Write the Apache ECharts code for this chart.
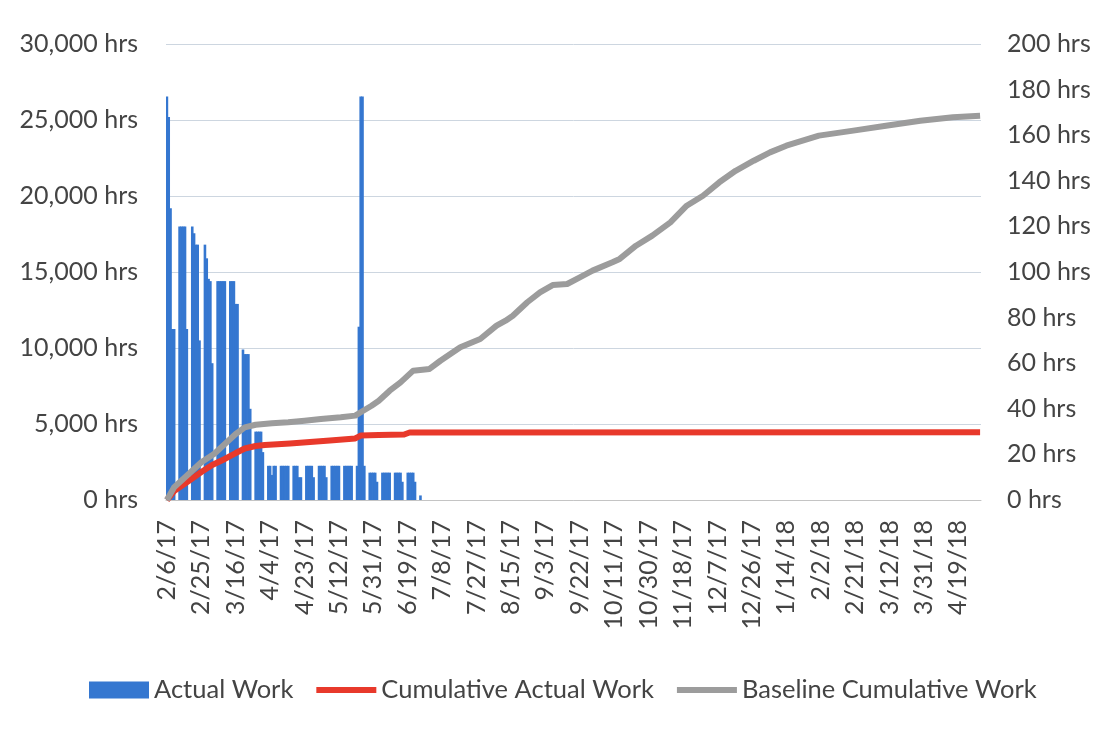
<!DOCTYPE html>
<html>
<head>
<meta charset="utf-8">
<script src="https://cdn.jsdelivr.net/npm/echarts@6/dist/echarts.min.js"></script>
<style>
html,body{margin:0;padding:0;background:#fff;}
#chart{width:1109px;height:740px;}
</style>
</head>
<body>
<div id="chart"></div>
<script>
// ---- DATA ----
const startDate = [2017, 2, 6];   // first day on the axis (Mon 2/6/17)
const dayCount = 450;             // daily categories through 5/1/18

// Actual Work (hrs per day), Mon..Fri for each week starting 2/6/17
const actualWorkWeeks = [
  [177, 168, 128, 75, 75],
  [120, 120, 120, 120, 75],
  [120, 117, 112, 112, 70],
  [112, 106, 97, 96, 60],
  [96, 96, 96, 96, 96],
  [96, 96, 96, 86, 86],
  [66, 64, 64, 64, 40],
  [30, 30, 30, 30, 21],
  [15, 15, 11, 15, 15],
  [15, 15, 15, 15, 15],
  [15, 15, 15, 10, 10],
  [15, 15, 15, 15, 10],
  [15, 15, 15, 15, 10],
  [15, 15, 15, 15, 15],
  [15, 15, 15, 15, 15],
  [15, 76, 177, 177, 15],
  [12, 12, 12, 12, 8],
  [12, 12, 12, 12, 12],
  [12, 12, 12, 12, 8],
  [12, 12, 12, 12, 8],
  [2, 0, 0, 0, 0]
];

// Cumulative Actual Work (hrs): [day index, value]
const cumulativeActual = [
  [0, 0], [4, 590], [12, 1250], [19, 1840], [25, 2300], [32, 2700],
  [38, 3090], [43, 3390], [49, 3550], [54, 3620], [68, 3720], [79, 3820],
  [90, 3910], [104, 4050], [107, 4240], [117, 4280], [131, 4310],
  [134, 4440], [449, 4450]
];

// Baseline Cumulative Work (hrs): [day index, value]
const baselineCumulative = [
  [0, 0], [4, 835], [12, 1710], [19, 2480], [26, 3030], [32, 3680],
  [38, 4340], [43, 4780], [49, 4950], [58, 5050], [67, 5110], [76, 5220],
  [85, 5330], [96, 5440], [104, 5550], [107, 5770], [113, 6200],
  [117, 6530], [123, 7190], [129, 7740], [136, 8510], [145, 8620],
  [151, 9160], [162, 10050], [173, 10590], [182, 11470], [187, 11800],
  [191, 12120], [199, 13010], [206, 13660], [213, 14140], [221, 14210],
  [228, 14650], [235, 15090], [246, 15640], [250, 15860], [259, 16730],
  [268, 17390], [278, 18270], [287, 19360], [296, 20020], [305, 20900],
  [314, 21660], [324, 22320], [333, 22870], [342, 23310], [351, 23640],
  [360, 23970], [379, 24300], [397, 24620], [416, 24950], [434, 25180],
  [449, 25280]
];

// ---- BUILD ----
const categories = [];
for (let i = 0; i < dayCount; i++) {
  const d = new Date(startDate[0], startDate[1] - 1, startDate[2] + i);
  categories.push((d.getMonth() + 1) + '/' + d.getDate() + '/' + String(d.getFullYear()).slice(2));
}
const actualDaily = new Array(dayCount).fill(0);
actualWorkWeeks.forEach((wk, w) => {
  wk.forEach((v, k) => { actualDaily[w * 7 + k] = v; });
});

const font = 'Lato, "Open Sans", sans-serif';
const textColor = '#444444';
const lineIcon = 'path://M0,0H60V6H0Z';
const chart = echarts.init(document.getElementById('chart'), null, {renderer: 'canvas'});
chart.setOption({
  animation: false,
  backgroundColor: '#ffffff',
  grid: {left: 166, right: 128, top: 44, bottom: 240, containLabel: false},
  legend: {
    left: 84, top: 672,
    itemWidth: 60, itemHeight: 17, itemGap: 23,
    symbolKeepAspect: true,
    textStyle: {fontFamily: font, fontSize: 25.5, color: textColor},
    data: [
      {name: 'Actual Work', icon: 'rect'},
      {name: 'Cumulative Actual Work', icon: lineIcon},
      {name: 'Baseline Cumulative Work', icon: lineIcon}
    ]
  },
  xAxis: {
    type: 'category',
    data: categories,
    boundaryGap: true,
    axisLine: {show: true, lineStyle: {color: '#c4c4c4', width: 1}},
    axisTick: {show: false},
    axisLabel: {
      interval: 18, rotate: 90, margin: 20,
      fontFamily: font, fontSize: 25, color: textColor
    },
    splitLine: {show: false}
  },
  yAxis: [
    {
      type: 'value', min: 0, max: 30000, interval: 5000,
      axisLine: {show: false}, axisTick: {show: false},
      axisLabel: {
        margin: 28, fontFamily: font, fontSize: 25, color: textColor,
        formatter: v => v.toLocaleString('en-US') + ' hrs'
      },
      splitLine: {show: true, lineStyle: {color: '#cdd6e0', width: 1}}
    },
    {
      type: 'value', min: 0, max: 200, interval: 20,
      axisLine: {show: false}, axisTick: {show: false},
      axisLabel: {
        margin: 26, fontFamily: font, fontSize: 25, color: textColor,
        formatter: v => v + ' hrs'
      },
      splitLine: {show: false}
    }
  ],
  series: [
    {
      name: 'Actual Work', type: 'bar', yAxisIndex: 1,
      data: actualDaily,
      barWidth: 2.6,
      itemStyle: {color: '#3577d0'}
    },
    {
      name: 'Cumulative Actual Work', type: 'line', yAxisIndex: 0,
      data: cumulativeActual,
      symbol: 'none',
      lineStyle: {color: '#e8392b', width: 6, join: 'round'},
      itemStyle: {color: '#e8392b'}
    },
    {
      name: 'Baseline Cumulative Work', type: 'line', yAxisIndex: 0,
      data: baselineCumulative,
      symbol: 'none',
      lineStyle: {color: '#9c9c9c', width: 6, join: 'round'},
      itemStyle: {color: '#9c9c9c'}
    }
  ]
});
</script>
</body>
</html>
